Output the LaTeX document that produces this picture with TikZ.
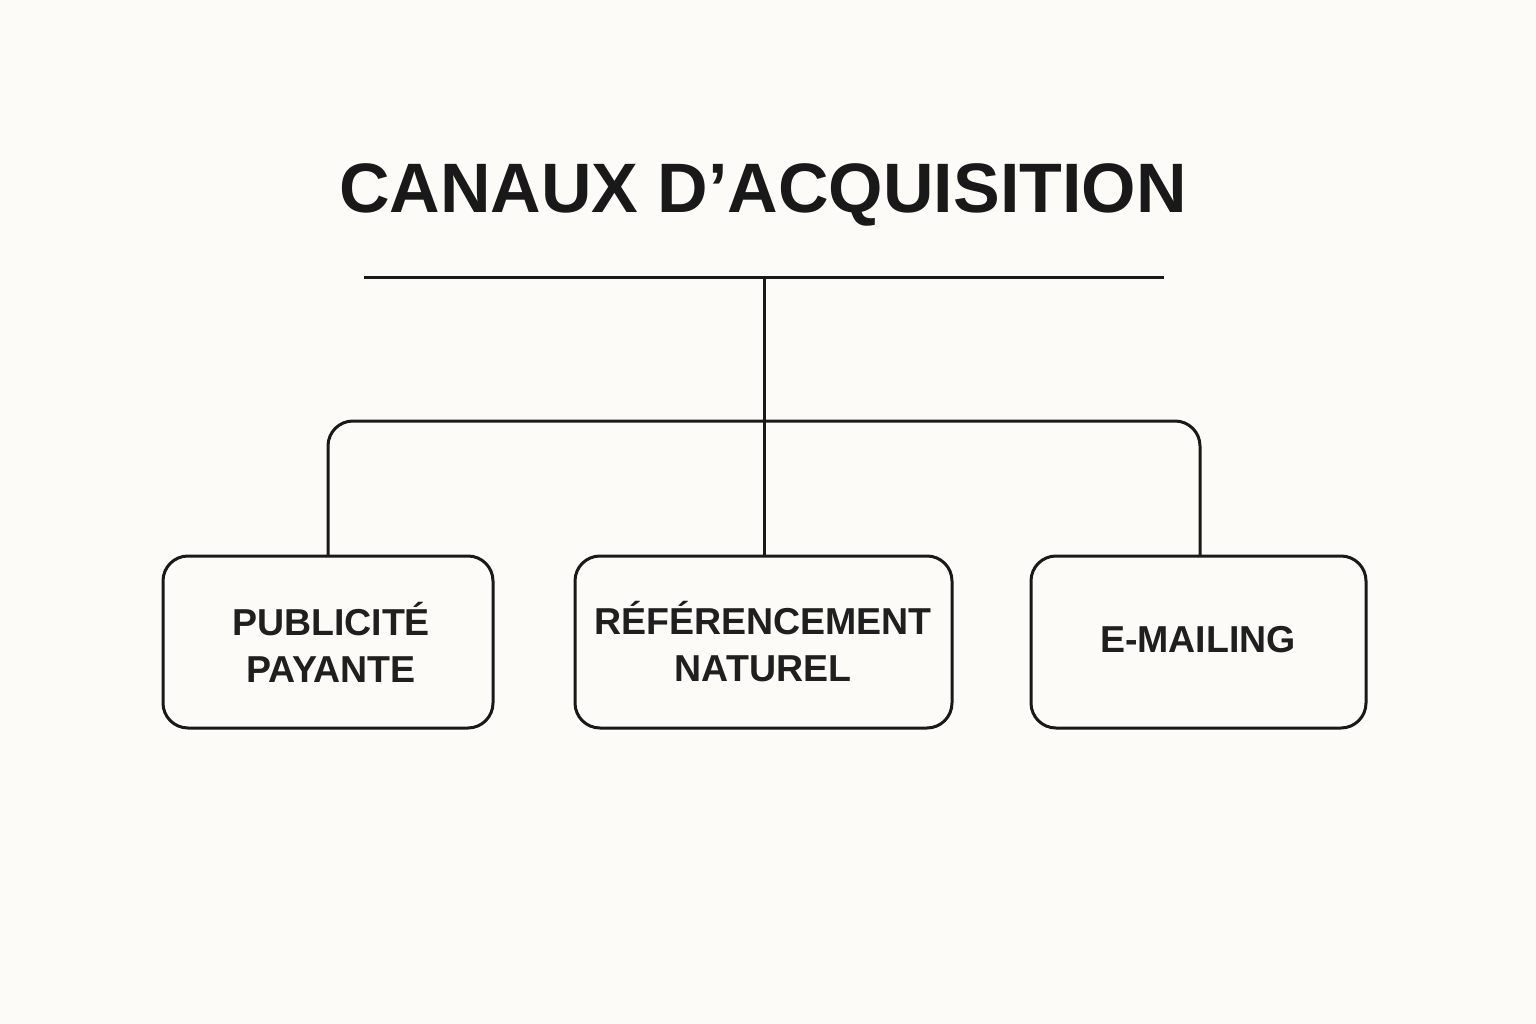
\documentclass[tikz,border=0pt]{standalone}
\usepackage{fontspec}
\setmainfont{Liberation Sans}
\begin{document}
\begin{tikzpicture}[x=1pt,y=-1pt,
  line/.style={draw=black!90, line width=3pt},
  chan/.style={draw=black!90, line width=3pt, rounded corners=25pt, fill=none},
  chantext/.style={font=\fontsize{37.5}{47}\selectfont\bfseries, text=black!88, align=center, inner sep=0pt},
]
\definecolor{bg}{HTML}{FCFBF7}
\fill[bg] (0,0) rectangle (1536,1024);
\useasboundingbox (0,0) rectangle (1536,1024);

\node[font=\fontsize{70}{84}\selectfont\bfseries, text=black!90, anchor=base, inner sep=0pt] (title) at (763,213) {CANAUX D'ACQUISITION};

\coordinate (barL) at (364,278);
\coordinate (barR) at (1164,278);
\coordinate (barM) at (764,278);
\draw[line] (barL) -- (barR);

\draw[chan] (163,556) rectangle (493,728);
\draw[chan] (575,556) rectangle (952,728);
\draw[chan] (1031,556) rectangle (1366,728);
\node[minimum width=330pt, minimum height=172pt, inner sep=0pt] (b1) at (328,642) {};
\node[minimum width=377pt, minimum height=172pt, inner sep=0pt] (b2) at (763.5,642) {};
\node[minimum width=335pt, minimum height=172pt, inner sep=0pt] (b3) at (1198.5,642) {};

\node[chantext] (t1) at (331,642) {PUBLICITÉ\\PAYANTE};
\node[chantext] (t2) at (763,642) {RÉFÉRENCEMENT\\NATUREL};
\node[chantext] (t3) at (1198,640) {E-MAILING};

\draw[line] (barM) -- (b2.north -| barM);
\draw[line, rounded corners=25pt] (b1.north -| 328,0) -- (328,421) -- (1200,421) -- (b3.north -| 1200,0);
\end{tikzpicture}
\end{document}
